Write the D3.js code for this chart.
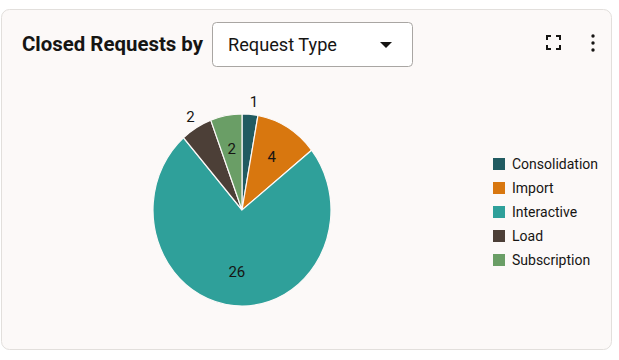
<!DOCTYPE html>
<html><head><meta charset="utf-8">
<script src="https://cdn.jsdelivr.net/npm/d3@7"></script>
<style>
html,body{margin:0;padding:0;background:#fff;}
svg{display:block;}
</style></head>
<body>
<svg id="c" width="619" height="360"></svg>
<script>
const categories = ["Consolidation","Import","Interactive","Load","Subscription"];
const values = [1,4,26,2,2];
const colors = ["#215b61","#d8770f","#2fa09a","#4c3f37","#6a9e66"];
const outsideLabels = ["Consolidation","Load"];
const titleText = "Closed Requests by";
const selectText = "Request Type";

const svg = d3.select("#c");
const font = "Roboto, 'Noto Sans', sans-serif";

svg.append("rect").attr("width",619).attr("height",360).attr("fill","#ffffff");
svg.append("rect").attr("x",1.5).attr("y",9.5).attr("width",610).attr("height",340)
  .attr("rx",8).attr("fill","#fcf9f8").attr("stroke","#e2dfdc").attr("stroke-width",1);

svg.append("text").attr("x",22).attr("y",51).text(titleText)
  .attr("font-family",font).attr("font-weight",700).attr("font-size",21)
  .attr("fill","#161513").attr("textLength",181).attr("lengthAdjust","spacingAndGlyphs");

svg.append("rect").attr("x",212.5).attr("y",22.5).attr("width",200).attr("height",44)
  .attr("rx",4).attr("fill","#ffffff").attr("stroke","#a9a6a3").attr("stroke-width",1);
svg.append("text").attr("x",228).attr("y",51).text(selectText)
  .attr("font-family",font).attr("font-size",17.5).attr("fill","#161513")
  .attr("textLength",109).attr("lengthAdjust","spacingAndGlyphs");
svg.append("path").attr("d","M380,42 L392,42 L386,48 Z").attr("fill","#161513");

const fs = svg.append("g").attr("stroke","#161513").attr("stroke-width",2).attr("fill","none");
fs.append("path").attr("d","M547,40 V36 H551");
fs.append("path").attr("d","M556,36 H560 V40");
fs.append("path").attr("d","M547,45 V49 H551");
fs.append("path").attr("d","M556,49 H560 V45");
[36,43,50].forEach(y=>svg.append("circle").attr("cx",593).attr("cy",y).attr("r",1.7).attr("fill","#161513"));

const cx = 242, cy = 210, rx = 89, ry = 96;
const data = categories.map((c,i)=>({name:c, value:values[i], color:colors[i]}));
const pie = d3.pie().value(d=>d.value).sort(null);
const arcs = pie(data);
const arc = d3.arc().innerRadius(0).outerRadius(1);
const g = svg.append("g").attr("transform",`translate(${cx},${cy}) scale(${rx},${ry})`);
g.selectAll("path").data(arcs).join("path")
  .attr("d",arc).attr("fill",d=>d.data.color)
  .attr("stroke","#fcf9f8").attr("stroke-width",1.2).attr("vector-effect","non-scaling-stroke");

const lab = svg.append("g").attr("transform",`translate(${cx},${cy})`);
lab.selectAll("text").data(arcs).join("text")
  .attr("x",d=>{const a=(d.startAngle+d.endAngle)/2; const out=outsideLabels.includes(d.data.name); const k=out?1.13:0.65; return Math.sin(a)*k*rx + (out && a<Math.PI ? 3 : 0);})
  .attr("y",d=>{const a=(d.startAngle+d.endAngle)/2; const k=outsideLabels.includes(d.data.name)?1.13:0.65; return -Math.cos(a)*k*ry;})
  .attr("dy","0.35em").attr("text-anchor","middle")
  .attr("font-family",font).attr("font-size",15).attr("fill","#161513")
  .text(d=>d.data.value);

const leg = svg.append("g").attr("transform","translate(493,158)");
const row = leg.selectAll("g").data(data).join("g").attr("transform",(d,i)=>`translate(0,${i*24})`);
row.append("rect").attr("width",12).attr("height",12).attr("fill",d=>d.color);
row.append("text").attr("x",19).attr("y",6).attr("dy","0.36em")
  .attr("font-family",font).attr("font-size",14).attr("fill","#161513").text(d=>d.name);
</script>
</body></html>
